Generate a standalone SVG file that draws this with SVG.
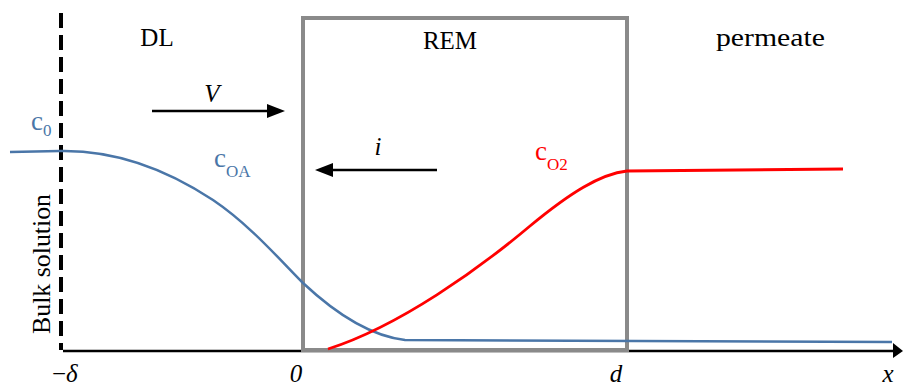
<svg xmlns="http://www.w3.org/2000/svg" width="903" height="388" viewBox="0 0 903 388">
<defs>
<style>
text{font-family:"Liberation Serif","DejaVu Serif",serif;fill:#000}
.lbl{font-size:25px}
.it{font-style:italic;font-size:25px}
.blue{fill:#4a76a8}
.red{fill:#ff0000}
.sub{font-size:17px}
.arr{stroke:#000;stroke-width:2.6;fill:none}
</style>
</defs>
<g id="connectors">
<path id="axis" d="M63,351 L893,351" stroke="#000" stroke-width="2.4" fill="none"/>
<path d="M893,343 L903,351 L893,358 z" fill="#000"/>
<line id="dl-boundary" x1="61" y1="13" x2="61" y2="350" stroke="#000" stroke-width="4" stroke-dasharray="15 7"/>
<path id="arrow-v" class="arr" d="M152,111 L270,111"/>
<path d="M267,104 L285,111 L267,118 z" fill="#000"/>
<path id="arrow-i" class="arr" d="M437,170 L330,170"/>
<path d="M333,163 L315,170 L333,177 z" fill="#000"/>
</g>
<g id="rem">
<rect x="303" y="18" width="324" height="332" fill="none" stroke="#8a8a8a" stroke-width="4"/>
<text class="lbl" x="450" y="49" text-anchor="middle">REM</text>
</g>
<g id="c-oa-curve">
<path d="M10,152 L60,151 C110,150 160,165 213,200 C250,225 280,260 303,283 C335,313 370,336 405,340 C520,342 700,342 892,342" fill="none" stroke="#4a76a8" stroke-width="2.5"/>
</g>
<g id="c-o2-curve">
<path d="M328,349 C400,326 480,268 530,226 C570,193 600,174 627,171 L843,169" fill="none" stroke="#ff0000" stroke-width="2.8"/>
</g>
<g id="dl"><text class="lbl" x="157" y="46" text-anchor="middle">DL</text></g>
<g id="permeate"><text class="lbl" x="716" y="46" textLength="109" lengthAdjust="spacingAndGlyphs">permeate</text></g>
<g id="v-label"><text class="it" x="212" y="102" text-anchor="middle">V</text></g>
<g id="i-label"><text class="it" x="378" y="155" text-anchor="middle">i</text></g>
<g id="c0"><text class="blue" x="31" y="130" font-size="27">c<tspan class="sub" dy="6">0</tspan></text></g>
<g id="coa"><text class="blue" x="214" y="167" font-size="27">c<tspan class="sub" dy="10">OA</tspan></text></g>
<g id="co2"><text class="red" x="535" y="160" font-size="27">c<tspan class="sub" dy="10">O2</tspan></text></g>
<g id="bulk"><text class="lbl" transform="translate(50,334) rotate(-90)" textLength="140" lengthAdjust="spacingAndGlyphs">Bulk solution</text></g>
<g id="ticks">
<text class="lbl" x="52" y="382">−<tspan font-style="italic">δ</tspan></text>
<text class="it" x="296" y="382" text-anchor="middle">0</text>
<text class="it" x="616" y="382" text-anchor="middle">d</text>
<text class="it" x="888" y="382" text-anchor="middle">x</text>
</g>
</svg>
